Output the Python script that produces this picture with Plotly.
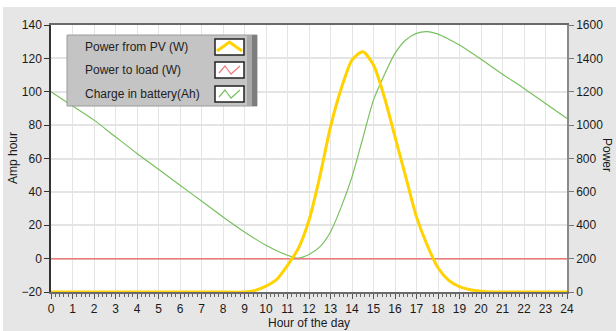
import plotly.graph_objects as go

# ---- data ----
pv_hours = [0, 1, 2, 3, 4, 5, 6, 7, 8, 9, 9.5, 10, 10.5, 11, 11.5, 12, 12.5, 13, 13.5, 14,
            14.5, 15, 15.5, 16, 16.5, 17, 17.5, 18, 18.5, 19, 19.5, 20, 20.5, 21, 22, 23, 24]
pv_watts = [0, 0, 0, 0, 0, 0, 0, 0, 0, 0, 10, 35, 75, 160, 260, 430, 690, 990, 1220, 1390,
            1440, 1360, 1170, 930, 690, 450, 280, 145, 70, 32, 14, 5, 0, 0, 0, 0, 0]

load_hours = [0, 24]
load_watts = [200, 200]

batt_hours = [0, 1, 2, 3, 4, 5, 6, 7, 8, 9, 10, 11,
              11.5, 12, 12.5, 13, 13.5, 14, 14.5, 15, 15.5, 16, 16.5, 17, 17.5, 18, 18.5,
              19, 20, 21, 22, 23, 24]
batt_ah = [100, 91.5, 83, 73, 63, 53.5, 44, 34.5, 25, 16, 8, 2,
           0.3, 2.5, 7, 16, 31, 49, 72, 95, 110, 123, 131, 135, 136, 134.5, 131.5,
           128, 119.5, 110.5, 102, 93, 84]

x_ticks = list(range(0, 25))
left_ticks = [-20, 0, 20, 40, 60, 80, 100, 120, 140]
right_ticks = [0, 200, 400, 600, 800, 1000, 1200, 1400, 1600]

series_names = ["Power from PV (W)", "Power to load (W)", "Charge in battery(Ah)"]
YELLOW = "#FFD200"
RED = "#EE7B7B"
GREEN = "#78C060"

FONT = "Liberation Sans"
W, H = 616, 331
L, R, T, B = 51, 49, 25, 39
PW, PH = W - L - R, H - T - B


def px(x):
    return (x - L) / PW


def py(y):
    return (H - B - y) / PH


fig = go.Figure()
fig.add_trace(go.Scatter(x=batt_hours, y=batt_ah, mode="lines", name=series_names[2],
                         line=dict(color=GREEN, width=1.2, shape="spline", smoothing=0.8),
                         yaxis="y"))
fig.add_trace(go.Scatter(x=load_hours, y=load_watts, mode="lines", name=series_names[1],
                         line=dict(color=RED, width=1.5), yaxis="y2"))
fig.add_trace(go.Scatter(x=pv_hours, y=pv_watts, mode="lines", name=series_names[0],
                         line=dict(color=YELLOW, width=3, shape="spline", smoothing=0.7),
                         yaxis="y2"))

tickfont = dict(family=FONT, size=12, color="#1a1a1a")

fig.update_layout(
    width=W, height=H,
    margin=dict(l=L, r=R, t=T, b=B, pad=0),
    paper_bgcolor="#e6e6e6",
    plot_bgcolor="#ffffff",
    showlegend=False,
    font=dict(family=FONT, size=12, color="#1a1a1a"),
    xaxis=dict(range=[0, 24], tickvals=x_ticks, ticks="outside", ticklen=5,
               tickcolor="#555", showgrid=True, gridcolor="#e4e4e4", gridwidth=1,
               showline=True, linecolor="#6a6a6a", linewidth=2, mirror=True,
               zeroline=False, tickfont=tickfont,
               minor=dict(dtick=0.2, ticks="outside", ticklen=3, tickcolor="#666",
                          showgrid=False)),
    yaxis=dict(range=[-20, 140], tickvals=left_ticks, ticks="outside", ticklen=5,
               tickcolor="#333", showgrid=True, gridcolor="#e4e4e4", gridwidth=2,
               showline=True, linecolor="#333", linewidth=1.5, zeroline=False,
               tickfont=tickfont),
    yaxis2=dict(range=[0, 1600], tickvals=right_ticks, overlaying="y", side="right",
                ticks="outside", ticklen=5, tickcolor="#777", showgrid=False,
                showline=True, linecolor="#8a8a8a", linewidth=1.5, zeroline=False,
                tickfont=tickfont),
)

# axis titles
title_font = dict(family=FONT, size=12, color="#1a1a1a")
fig.add_annotation(text="Amp hour", xref="paper", yref="paper", x=px(13), y=py(158),
                   xanchor="center", yanchor="middle",
                   textangle=-90, showarrow=False, font=title_font)
fig.add_annotation(text="Power", xref="paper", yref="paper", x=px(607), y=py(155),
                   xanchor="center", yanchor="middle",
                   textangle=90, showarrow=False, font=title_font)
fig.add_annotation(text="Hour of the day", xref="paper", yref="paper", x=px(309), y=py(323),
                   xanchor="center", yanchor="middle", showarrow=False, font=title_font)

shapes = []
# white borders of the picture
shapes.append(dict(type="rect", xref="paper", yref="paper", x0=px(0), x1=px(W), y0=py(7), y1=py(0),
                   fillcolor="white", line=dict(width=0), layer="below"))
shapes.append(dict(type="rect", xref="paper", yref="paper", x0=px(0), x1=px(3), y0=py(H), y1=py(0),
                   fillcolor="white", line=dict(width=0), layer="below"))

# legend box
shapes.append(dict(type="rect", xref="paper", yref="paper", x0=px(67), x1=px(257), y0=py(106), y1=py(35),
                   fillcolor="#c4c4c4", line=dict(color="#9a9a9a", width=1), layer="above"))
shapes.append(dict(type="rect", xref="paper", yref="paper", x0=px(247), x1=px(252), y0=py(106), y1=py(35),
                   fillcolor="#a9a9a9", line=dict(width=0), layer="above"))
shapes.append(dict(type="rect", xref="paper", yref="paper", x0=px(252), x1=px(257), y0=py(106), y1=py(35),
                   fillcolor="#7d7d7d", line=dict(width=0), layer="above"))

rows = [(39, 55), (62, 78), (86, 102)]
colors = [YELLOW, RED, GREEN]
widths = [3, 1.2, 1.2]
for i, (top, bot) in enumerate(rows):
    shapes.append(dict(type="rect", xref="paper", yref="paper", x0=px(215), x1=px(244),
                       y0=py(bot), y1=py(top), fillcolor="white",
                       line=dict(color="#222", width=1.5), layer="above"))
    if i == 0:
        pts = [(217, bot - 4), (229.5, top + 3), (242, bot - 4)]
    else:
        pts = [(219, bot - 5), (225, top + 4), (231, bot - 4), (240, top + 4)]
    path = "M " + " L ".join(f"{px(a):.5f},{py(b):.5f}" for a, b in pts)
    shapes.append(dict(type="path", xref="paper", yref="paper", path=path,
                       line=dict(color=colors[i], width=widths[i]), layer="above"))
    fig.add_annotation(text=series_names[i], xref="paper", yref="paper", x=px(83),
                       y=py((top + bot) / 2), xanchor="left", yanchor="middle", showarrow=False,
                       font=dict(family=FONT, size=12, color="#222"))

fig.update_layout(shapes=shapes)
fig.write_html("out.html", config={"displayModeBar": False},
               post_script="document.body.style.margin='0';document.body.style.padding='0';")
